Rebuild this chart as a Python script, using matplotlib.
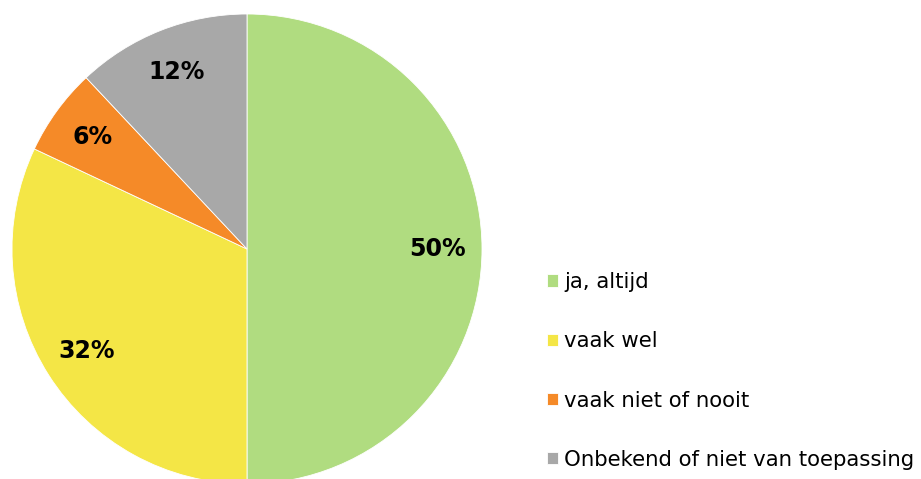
import matplotlib
matplotlib.use("Agg")
import matplotlib.pyplot as plt

categories = ["ja, altijd", "vaak wel", "vaak niet of nooit", "Onbekend of niet van toepassing"]
values = [50, 32, 6, 12]
colors = ["#B0DC80", "#F4E646", "#F58A28", "#A8A8A8"]

fig = plt.figure(figsize=(9.21, 4.79), dpi=100)
ax = fig.add_axes([12/921, -5/479, 470/921, 470/479])
wedges, texts, autotexts = ax.pie(
    values, colors=colors, startangle=90, counterclock=False,
    autopct="%d%%", pctdistance=0.81,
    wedgeprops=dict(edgecolor="white", linewidth=0.6),
    textprops=dict(fontsize=17, fontweight="bold", color="black", family="DejaVu Sans"),
)
ax.set_xlim(-1, 1)
ax.set_ylim(-1, 1)
ax.set_aspect("equal")

leg = fig.legend(wedges, categories, loc="center left",
                 bbox_to_anchor=(547/921, (479-371)/479),
                 frameon=False, fontsize=15.3, handlelength=0.5, handleheight=0.5,
                 handletextpad=0.3, labelspacing=1.85, borderpad=0, borderaxespad=0)
fig.savefig("out.png", dpi=100)
